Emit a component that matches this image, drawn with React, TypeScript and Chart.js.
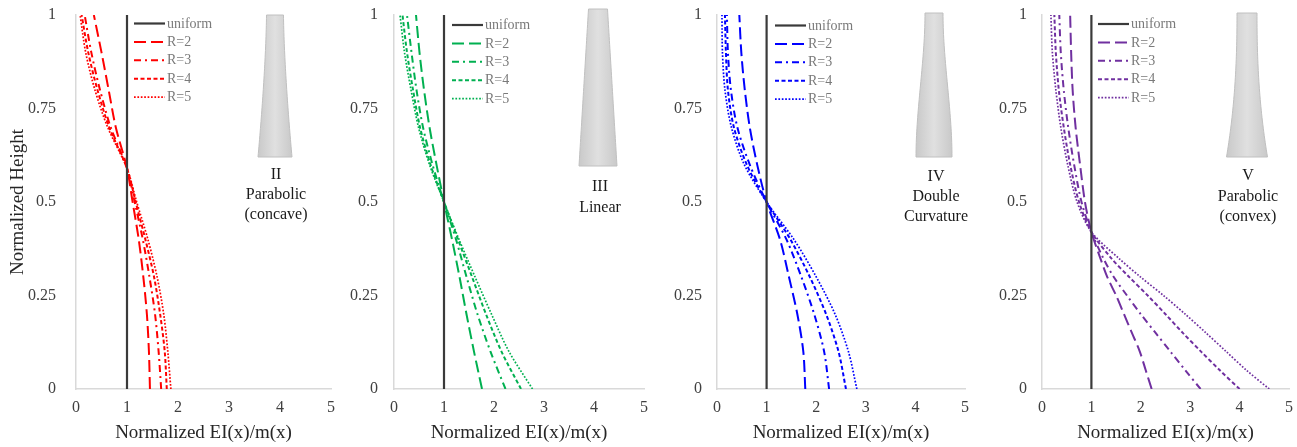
import React, { useEffect, useRef } from "react";
import { Chart, registerables } from "chart.js";

Chart.register(...registerables);
Chart.defaults.font.family = '"Liberation Serif", "Times New Roman", serif';

// ---------- data ----------
const xTicks = [0, 1, 2, 3, 4, 5];
const yTicks = [0, 0.25, 0.5, 0.75, 1];
const seriesLabels = ["uniform", "R=2", "R=3", "R=4", "R=5"];

const uniformX = [1, 1];
const uniformY = [0, 1];

// Panel II — Parabolic (concave)
const heightsII = [0, 0.1, 0.2, 0.3, 0.4, 0.5, 0.59, 0.7, 0.8, 0.9, 1];
const concaveR2 = [1.45, 1.43, 1.39, 1.32, 1.23, 1.11, 1.0, 0.78, 0.64, 0.5, 0.35];
const concaveR3 = [1.67, 1.62, 1.55, 1.44, 1.31, 1.15, 1.0, 0.68, 0.47, 0.3, 0.17];
const concaveR4 = [1.78, 1.74, 1.65, 1.53, 1.36, 1.17, 1.0, 0.65, 0.42, 0.24, 0.11];
const concaveR5 = [1.86, 1.8, 1.72, 1.59, 1.41, 1.19, 1.0, 0.62, 0.37, 0.19, 0.08];

// Panel III — Linear
const heightsIII = [0, 0.1, 0.2, 0.3, 0.4, 0.5, 0.6, 0.7, 0.8, 0.9, 1];
const linearR2 = [1.76, 1.6, 1.45, 1.31, 1.16, 1.0, 0.85, 0.71, 0.6, 0.51, 0.44];
const linearR3 = [2.23, 1.93, 1.67, 1.45, 1.24, 1.0, 0.77, 0.58, 0.45, 0.35, 0.26];
const linearR4 = [2.54, 2.15, 1.84, 1.56, 1.28, 1.0, 0.73, 0.52, 0.38, 0.26, 0.17];
const linearR5 = [2.77, 2.3, 1.95, 1.62, 1.3, 1.0, 0.71, 0.49, 0.34, 0.21, 0.12];

// Panel IV — Double Curvature
const heightsIV = [0, 0.1, 0.2, 0.3, 0.4, 0.5, 0.6, 0.7, 0.8, 0.9, 1];
const doubleR2 = [1.78, 1.74, 1.62, 1.45, 1.27, 1.0, 0.81, 0.66, 0.56, 0.49, 0.45];
const doubleR3 = [2.26, 2.16, 1.96, 1.7, 1.4, 1.0, 0.66, 0.41, 0.28, 0.22, 0.2];
const doubleR4 = [2.6, 2.45, 2.2, 1.87, 1.48, 1.0, 0.6, 0.34, 0.22, 0.18, 0.16];
const doubleR5 = [2.82, 2.65, 2.38, 2.0, 1.55, 1.0, 0.55, 0.29, 0.16, 0.11, 0.1];

// Panel V — Parabolic (convex)
const heightsV = [0, 0.05, 0.1, 0.15, 0.2, 0.25, 0.3, 0.35, 0.42, 0.5, 0.6, 0.7, 0.8, 0.9, 1];
const convexR2 = [2.22, 2.1, 1.98, 1.82, 1.66, 1.5, 1.32, 1.18, 1.0, 0.87, 0.77, 0.68, 0.62, 0.59, 0.57];
const convexR3 = [3.21, 2.9, 2.6, 2.3, 2.0, 1.72, 1.45, 1.24, 1.0, 0.8, 0.65, 0.53, 0.44, 0.38, 0.35];
const convexR4 = [4.0, 3.6, 3.22, 2.85, 2.5, 2.14, 1.76, 1.4, 1.0, 0.75, 0.57, 0.44, 0.34, 0.28, 0.25];
const convexR5 = [4.6, 4.14, 3.73, 3.32, 2.9, 2.46, 1.99, 1.55, 1.0, 0.71, 0.52, 0.38, 0.28, 0.21, 0.18];

// ---------- styles / layout ----------
const UNIFORM_COLOR = "#3a3a3a";
const dashes: number[][] = [[], [12, 5], [7, 4, 2, 4], [4, 2.5], [1.7, 1.7]];
const widths = [2.2, 2, 2, 2, 1.7];

type Panel = {
  color: string;
  heights: number[];
  series: number[][];
  caption: string[];
  captionDx: number;
  captionY: number[];
  canvasLeft: number;
  canvasWidth: number;
  padRight: number;
  yAxisWidth: number;
  tickPad: number;
  showYTitle: boolean;
  legendDx: number;
  legendDy: number;
  shape: { dx: number; top: number; bottom: number; halfTop: number; halfBot: number; kind: string };
};

const panels: Panel[] = [
  {
    color: "#ff0000",
    heights: heightsII,
    series: [concaveR2, concaveR3, concaveR4, concaveR5],
    caption: ["II", "Parabolic", "(concave)"],
    captionDx: 200,
    captionY: [160, 180, 200],
    canvasLeft: 0,
    canvasWidth: 341,
    padRight: 10,
    yAxisWidth: 76,
    tickPad: 20,
    showYTitle: true,
    legendDx: 58,
    legendDy: 8.5,
    shape: { dx: 199, top: 0, bottom: 142, halfTop: 8.5, halfBot: 17, kind: "concave" },
  },
  {
    color: "#00b050",
    heights: heightsIII,
    series: [linearR2, linearR3, linearR4, linearR5],
    caption: ["III", "Linear"],
    captionDx: 206,
    captionY: [172, 193],
    canvasLeft: 345,
    canvasWidth: 309,
    padRight: 10,
    yAxisWidth: 49,
    tickPad: 16,
    showYTitle: false,
    legendDx: 58,
    legendDy: 10,
    shape: { dx: 204, top: -6, bottom: 151, halfTop: 9.5, halfBot: 19, kind: "linear" },
  },
  {
    color: "#0000ff",
    heights: heightsIV,
    series: [doubleR2, doubleR3, doubleR4, doubleR5],
    caption: ["IV", "Double", "Curvature"],
    captionDx: 219,
    captionY: [162, 182, 202],
    canvasLeft: 660,
    canvasWidth: 315,
    padRight: 10,
    yAxisWidth: 57,
    tickPad: 15,
    showYTitle: false,
    legendDx: 58,
    legendDy: 10.5,
    shape: { dx: 217, top: -2, bottom: 142, halfTop: 9, halfBot: 18, kind: "double" },
  },
  {
    color: "#7030a0",
    heights: heightsV,
    series: [convexR2, convexR3, convexR4, convexR5],
    caption: ["V", "Parabolic", "(convex)"],
    captionDx: 206,
    captionY: [161, 182, 202],
    canvasLeft: 985,
    canvasWidth: 312,
    padRight: 8,
    yAxisWidth: 57,
    tickPad: 15,
    showYTitle: false,
    legendDx: 56,
    legendDy: 9,
    shape: { dx: 205, top: -2, bottom: 142, halfTop: 10, halfBot: 20.5, kind: "convex" },
  },
];

function profile(kind: string, s: number): number {
  if (kind === "linear") return s;
  if (kind === "concave") return Math.pow(s, 1.5);
  if (kind === "convex") return Math.pow(s, 2.3);
  return s * s * (3 - 2 * s);
}

function makeDecor(p: Panel) {
  return {
    id: "decor",
    afterDraw(chart: any) {
      const ctx: CanvasRenderingContext2D = chart.ctx;
      const a = chart.chartArea;
      // shape icon
      const sh = p.shape;
      const cx = a.left + sh.dx;
      const t = a.top + sh.top;
      const b = a.top + sh.bottom;
      const N = 40;
      ctx.save();
      ctx.beginPath();
      for (let i = 0; i <= N; i++) {
        const s = i / N;
        const hw = sh.halfTop + (sh.halfBot - sh.halfTop) * profile(sh.kind, s);
        const y = t + (b - t) * s;
        if (i === 0) ctx.moveTo(cx - hw, y);
        else ctx.lineTo(cx - hw, y);
      }
      for (let i = N; i >= 0; i--) {
        const s = i / N;
        const hw = sh.halfTop + (sh.halfBot - sh.halfTop) * profile(sh.kind, s);
        const y = t + (b - t) * s;
        ctx.lineTo(cx + hw, y);
      }
      ctx.closePath();
      const g = ctx.createLinearGradient(cx - sh.halfBot, 0, cx + sh.halfBot, 0);
      g.addColorStop(0, "#c9c9c9");
      g.addColorStop(0.5, "#e0e0e0");
      g.addColorStop(1, "#c9c9c9");
      ctx.fillStyle = g;
      ctx.fill();
      ctx.strokeStyle = "#c0c0c0";
      ctx.lineWidth = 1;
      ctx.stroke();
      ctx.restore();

      // caption
      ctx.save();
      ctx.fillStyle = "#1a1a1a";
      ctx.font = '16px "Liberation Serif", serif';
      ctx.textAlign = "center";
      ctx.textBaseline = "middle";
      p.caption.forEach((line, i) => {
        ctx.fillText(line, a.left + p.captionDx, a.top + p.captionY[i]);
      });
      ctx.restore();

      // legend
      const lx = a.left + p.legendDx;
      seriesLabels.forEach((lab, i) => {
        const y = a.top + p.legendDy + i * 18.4;
        ctx.save();
        ctx.strokeStyle = i === 0 ? UNIFORM_COLOR : p.color;
        ctx.lineWidth = widths[i];
        ctx.setLineDash(dashes[i]);
        ctx.beginPath();
        ctx.moveTo(lx, y);
        ctx.lineTo(lx + 31, y);
        ctx.stroke();
        ctx.restore();
        ctx.save();
        ctx.fillStyle = "#7a7a7a";
        ctx.font = '14px "Liberation Serif", serif';
        ctx.textAlign = "left";
        ctx.textBaseline = "middle";
        ctx.fillText(lab, lx + 33, y + 0.5);
        ctx.restore();
      });
    },
  };
}

function buildConfig(p: Panel): any {
  const datasets: any[] = [
    {
      label: seriesLabels[0],
      data: uniformX.map((x, i) => ({ x, y: uniformY[i] })),
      borderColor: UNIFORM_COLOR,
      borderWidth: widths[0],
      borderDash: dashes[0],
      showLine: true,
      pointRadius: 0,
      tension: 0,
    },
  ];
  p.series.forEach((vals, k) => {
    datasets.push({
      label: seriesLabels[k + 1],
      data: vals.map((x, i) => ({ x, y: p.heights[i] })),
      borderColor: p.color,
      borderWidth: widths[k + 1],
      borderDash: dashes[k + 1],
      showLine: true,
      pointRadius: 0,
      tension: 0.3,
    });
  });
  return {
    type: "scatter",
    data: { datasets },
    options: {
      responsive: false,
      animation: false,
      events: [],
      layout: { padding: { top: 15, right: p.padRight, bottom: 0, left: 0 } },
      plugins: { legend: { display: false }, tooltip: { enabled: false } },
      scales: {
        x: {
          type: "linear",
          min: 0,
          max: 5,
          grid: { display: false, drawTicks: false },
          border: { display: true, color: "#d9d9d9", width: 1.5 },
          ticks: { padding: 9, color: "#404040", font: { size: 16 }, callback: (v: any) => String(v) },
          afterBuildTicks: (s: any) => {
            s.ticks = xTicks.map((v) => ({ value: v }));
          },
          afterFit: (s: any) => {
            s.height = 58;
            s.paddingLeft = 0;
            s.paddingRight = 0;
          },
          title: {
            display: true,
            text: "Normalized EI(x)/m(x)",
            color: "#262626",
            font: { size: 19 },
            padding: { top: 0, bottom: 3 },
          },
        },
        y: {
          type: "linear",
          min: 0,
          max: 1,
          grid: { display: false, drawTicks: false },
          border: { display: true, color: "#d9d9d9", width: 1.5 },
          ticks: { padding: p.tickPad, color: "#404040", font: { size: 16 }, callback: (v: any) => String(v) },
          afterBuildTicks: (s: any) => {
            s.ticks = yTicks.map((v) => ({ value: v }));
          },
          afterFit: (s: any) => {
            s.width = p.yAxisWidth;
            s.paddingTop = 0;
            s.paddingBottom = 0;
          },
          title: {
            display: p.showYTitle,
            text: "Normalized Height",
            color: "#262626",
            font: { size: 19 },
            padding: { top: 7, bottom: 0 },
          },
        },
      },
    },
    plugins: [makeDecor(p)],
  };
}

export default function App() {
  const refs = useRef<(HTMLCanvasElement | null)[]>([]);
  useEffect(() => {
    const charts = panels.map((p, i) => new Chart(refs.current[i] as HTMLCanvasElement, buildConfig(p)));
    return () => charts.forEach((c) => c.destroy());
  }, []);
  return (
    <div style={{ position: "absolute", left: 0, top: 0, width: 1297, height: 447, background: "#ffffff" }}>
      {panels.map((p, i) => (
        <canvas
          key={i}
          ref={(el) => {
            refs.current[i] = el;
          }}
          width={p.canvasWidth}
          height={447}
          style={{ position: "absolute", left: p.canvasLeft, top: 0, width: p.canvasWidth, height: 447 }}
        />
      ))}
    </div>
  );
}
